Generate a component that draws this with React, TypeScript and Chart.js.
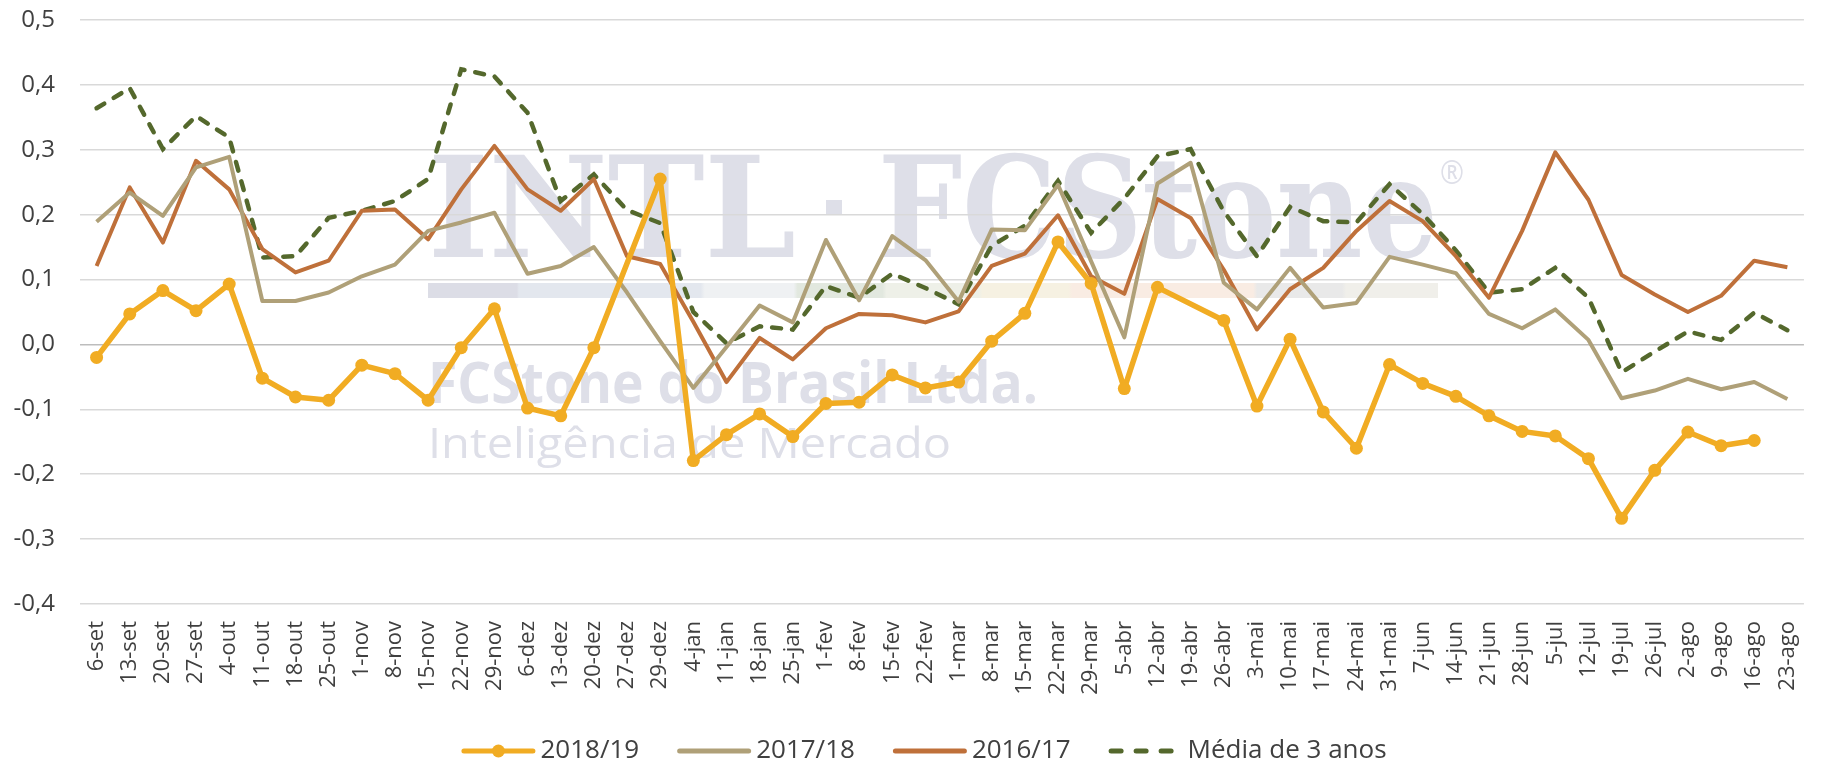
import React, { useEffect, useRef } from "react";
import { Chart, registerables } from "chart.js";

Chart.register(...registerables);

const labels = [
  "6-set", "13-set", "20-set", "27-set", "4-out", "11-out", "18-out", "25-out",
  "1-nov", "8-nov", "15-nov", "22-nov", "29-nov", "6-dez", "13-dez", "20-dez",
  "27-dez", "29-dez", "4-jan", "11-jan", "18-jan", "25-jan", "1-fev", "8-fev",
  "15-fev", "22-fev", "1-mar", "8-mar", "15-mar", "22-mar", "29-mar", "5-abr",
  "12-abr", "19-abr", "26-abr", "3-mai", "10-mai", "17-mai", "24-mai", "31-mai",
  "7-jun", "14-jun", "21-jun", "28-jun", "5-jul", "12-jul", "19-jul", "26-jul",
  "2-ago", "9-ago", "16-ago", "23-ago",
];

const serie2018_19 = [
  -0.020, 0.047, 0.083, 0.052, 0.093, -0.052, -0.081, -0.086,
  -0.032, -0.045, -0.086, -0.005, 0.055, -0.098, -0.110, -0.005,
  null, 0.255, -0.179, -0.139, -0.107, -0.142, -0.091, -0.089,
  -0.047, -0.067, -0.058, 0.005, 0.048, 0.158, 0.094, -0.068,
  0.088, null, 0.037, -0.095, 0.008, -0.104, -0.160, -0.031,
  -0.060, -0.080, -0.110, -0.134, -0.141, -0.176, -0.268, -0.194,
  -0.135, -0.156, -0.148, null,
];

const serie2017_18 = [
  0.189, 0.234, 0.198, 0.273, 0.289, 0.067, 0.067, 0.080,
  0.105, 0.123, 0.175, 0.188, 0.203, 0.109, 0.121, 0.150,
  0.080, 0.005, -0.067, -0.004, 0.060, 0.034, 0.161, 0.068,
  0.167, 0.130, 0.066, 0.177, 0.176, 0.246, 0.128, 0.011,
  0.248, 0.280, 0.095, 0.054, 0.118, 0.057, 0.064, 0.135,
  0.123, 0.110, 0.047, 0.025, 0.054, 0.007, -0.083, -0.071,
  -0.053, -0.069, -0.058, -0.084,
];

const serie2016_17 = [
  0.121, 0.242, 0.157, 0.283, 0.239, 0.147, 0.111, 0.129,
  0.206, 0.208, 0.162, 0.239, 0.306, 0.239, 0.206, 0.255,
  0.136, 0.124, 0.035, -0.058, 0.010, -0.023, 0.025, 0.047,
  0.045, 0.034, 0.051, 0.121, 0.140, 0.199, 0.105, 0.078,
  0.224, 0.195, 0.115, 0.023, 0.085, 0.118, 0.175, 0.221,
  0.190, 0.136, 0.072, 0.175, 0.296, 0.223, 0.107, 0.077,
  0.050, 0.075, 0.129, 0.119,
];

const serieMedia = [
  0.364, 0.395, 0.301, 0.352, 0.319, 0.134, 0.136, 0.195,
  0.206, 0.221, 0.255, 0.424, 0.413, 0.357, 0.221, 0.262,
  0.207, 0.187, 0.050, 0.002, 0.028, 0.023, 0.090, 0.072,
  0.109, 0.087, 0.062, 0.152, 0.183, 0.252, 0.172, 0.225,
  0.290, 0.301, 0.205, 0.136, 0.212, 0.190, 0.188, 0.247,
  0.201, 0.145, 0.080, 0.085, 0.118, 0.072, -0.043, -0.011,
  0.020, 0.007, 0.049, 0.022,
];

const seriesNames = ["2018/19", "2017/18", "2016/17", "Média de 3 anos"];
const yMin = -0.4;
const yMax = 0.5;
const yStep = 0.1;

const FONT = "'Open Sans', 'Noto Sans', sans-serif";
const TEXT = "#404040";
const YELLOW = "#F1AC23";
const TAN = "#AFA078";
const ORANGE = "#BF703A";
const GREEN = "#54682C";
const WM = "#DEDFE8";

function fitText(ctx: CanvasRenderingContext2D, text: string, font: string, x: number, baseline: number, width: number) {
  ctx.font = font;
  const w = ctx.measureText(text).width;
  ctx.save();
  ctx.translate(x, baseline);
  ctx.scale(width / w, 1);
  ctx.textAlign = "left";
  ctx.textBaseline = "alphabetic";
  ctx.fillText(text, 0, 0);
  ctx.restore();
}

const watermarkPlugin = {
  id: "watermark",
  beforeDraw(chart: any) {
    const ctx: CanvasRenderingContext2D = chart.ctx;
    ctx.save();
    ctx.fillStyle = WM;
    fitText(ctx, "INTL", `bold 141px 'DejaVu Serif', serif`, 428, 257, 368);
    ctx.fillRect(826, 200, 16, 14);
    fitText(ctx, "FCStone", `bold 141px 'DejaVu Serif', serif`, 878, 257, 560);
    fitText(ctx, "®", `32px ${FONT}`, 1440, 184, 24);
    const g = ctx.createLinearGradient(428, 0, 1438, 0);
    const stops: [number, string][] = [
      [0, "#dcdde6"], [0.088, "#dcdde6"], [0.09, "#e3e7ee"], [0.27, "#e3e7ee"],
      [0.274, "#eff1f3"], [0.362, "#eff1f3"], [0.366, "#e2e8df"], [0.45, "#e2e8df"],
      [0.454, "#eef0e8"], [0.545, "#eef0e8"], [0.549, "#f6f1e2"], [0.634, "#f6f1e2"],
      [0.638, "#f9ece3"], [0.817, "#f9ece3"], [0.821, "#e9e9e9"], [0.905, "#e9e9e9"],
      [0.909, "#f0efea"], [1, "#f0efea"],
    ];
    stops.forEach(([o, c]) => g.addColorStop(o, c));
    ctx.fillStyle = g;
    ctx.fillRect(428, 283, 1010, 15);
    ctx.fillStyle = WM;
    fitText(ctx, "FCStone do Brasil Ltda.", `bold 57px ${FONT}`, 428, 403, 610);
    fitText(ctx, "Inteligência de Mercado", `42px ${FONT}`, 428, 458, 523);
    ctx.restore();
  },
};

const legendPlugin = {
  id: "customLegend",
  afterDraw(chart: any) {
    const ctx: CanvasRenderingContext2D = chart.ctx;
    const datasets = chart.data.datasets;
    ctx.save();
    ctx.font = `26px ${FONT}`;
    const sample = 74;
    const gapIn = 5;
    const gapOut = 38;
    const widths = datasets.map((d: any) => ctx.measureText(d.label).width);
    let total = 0;
    widths.forEach((w: number, i: number) => {
      total += sample + gapIn + w + (i < widths.length - 1 ? gapOut : 0);
    });
    let x = 924 - total / 2;
    const y = 751;
    datasets.forEach((d: any, i: number) => {
      ctx.save();
      ctx.strokeStyle = d.borderColor;
      ctx.lineWidth = 5;
      ctx.lineCap = "round";
      ctx.beginPath();
      if (d.borderDash && d.borderDash.length) {
        ctx.setLineDash([10, 15]);
      }
      ctx.moveTo(x + 2.5, y);
      ctx.lineTo(x + sample - 2.5, y);
      ctx.stroke();
      if (d.pointRadius > 0) {
        ctx.setLineDash([]);
        ctx.fillStyle = d.borderColor;
        ctx.beginPath();
        ctx.arc(x + sample / 2, y, d.pointRadius, 0, Math.PI * 2);
        ctx.fill();
      }
      ctx.restore();
      ctx.fillStyle = TEXT;
      ctx.textAlign = "left";
      ctx.textBaseline = "middle";
      ctx.fillText(d.label, x + sample + gapIn, y);
      x += sample + gapIn + widths[i] + gapOut;
    });
    ctx.restore();
  },
};

export default function App() {
  const canvasRef = useRef<HTMLCanvasElement | null>(null);

  useEffect(() => {
    document.body.style.margin = "0";
    document.body.style.overflow = "hidden";
    const canvas = canvasRef.current;
    if (!canvas) return;
    Chart.defaults.font.family = FONT;
    const chart = new Chart(canvas, {
      type: "line",
      data: {
        labels,
        datasets: [
          {
            label: seriesNames[0],
            data: serie2018_19,
            borderColor: YELLOW,
            backgroundColor: YELLOW,
            borderWidth: 5.5,
            pointRadius: 6.5,
            pointHoverRadius: 6.5,
            pointBackgroundColor: YELLOW,
            pointBorderWidth: 0,
            spanGaps: true,
            tension: 0,
            borderJoinStyle: "round",
            borderCapStyle: "round",
          },
          {
            label: seriesNames[1],
            data: serie2017_18,
            borderColor: TAN,
            backgroundColor: TAN,
            borderWidth: 4,
            pointRadius: 0,
            tension: 0,
            borderJoinStyle: "round",
          },
          {
            label: seriesNames[2],
            data: serie2016_17,
            borderColor: ORANGE,
            backgroundColor: ORANGE,
            borderWidth: 4,
            pointRadius: 0,
            tension: 0,
            borderJoinStyle: "round",
          },
          {
            label: seriesNames[3],
            data: serieMedia,
            borderColor: GREEN,
            backgroundColor: GREEN,
            borderWidth: 4.5,
            borderDash: [9, 11],
            borderCapStyle: "round",
            pointRadius: 0,
            tension: 0,
          },
        ],
      },
      options: {
        responsive: false,
        animation: false,
        devicePixelRatio: 1,
        layout: { padding: { top: 20, right: 24, bottom: 0, left: 0 } },
        plugins: {
          legend: { display: false },
          tooltip: { enabled: false },
        },
        events: [],
        scales: {
          x: {
            type: "category",
            offset: true,
            grid: { display: false, drawTicks: false },
            border: { display: false },
            ticks: {
              autoSkip: false,
              minRotation: 90,
              maxRotation: 90,
              padding: 17,
              color: TEXT,
              font: { size: 22, family: FONT },
            },
            afterFit(scale: any) {
              scale.height = 160;
            },
          },
          y: {
            min: yMin,
            max: yMax,
            ticks: {
              stepSize: yStep,
              padding: 25,
              color: TEXT,
              font: { size: 24, family: FONT },
              callback: (v: any) => {
                const n = Number(v);
                if (Math.abs(n) < 1e-9) return "0,0";
                return n.toFixed(1).replace(".", ",");
              },
            },
            grid: {
              drawTicks: false,
              lineWidth: 1.5,
              color: (c: any) =>
                c.tick && Math.abs(c.tick.value) < 1e-9 ? "#bdbdbd" : "#d9d9d9",
            },
            border: { display: false },
            afterFit(scale: any) {
              scale.width = 80;
              scale.paddingTop = 0;
              scale.paddingBottom = 0;
            },
          },
        },
      },
      plugins: [watermarkPlugin, legendPlugin],
    } as any);
    return () => chart.destroy();
  }, []);

  return (
    <div style={{ width: 1831, height: 764, position: "relative" }}>
      <canvas ref={canvasRef} width={1831} height={764} style={{ display: "block" }} />
    </div>
  );
}
